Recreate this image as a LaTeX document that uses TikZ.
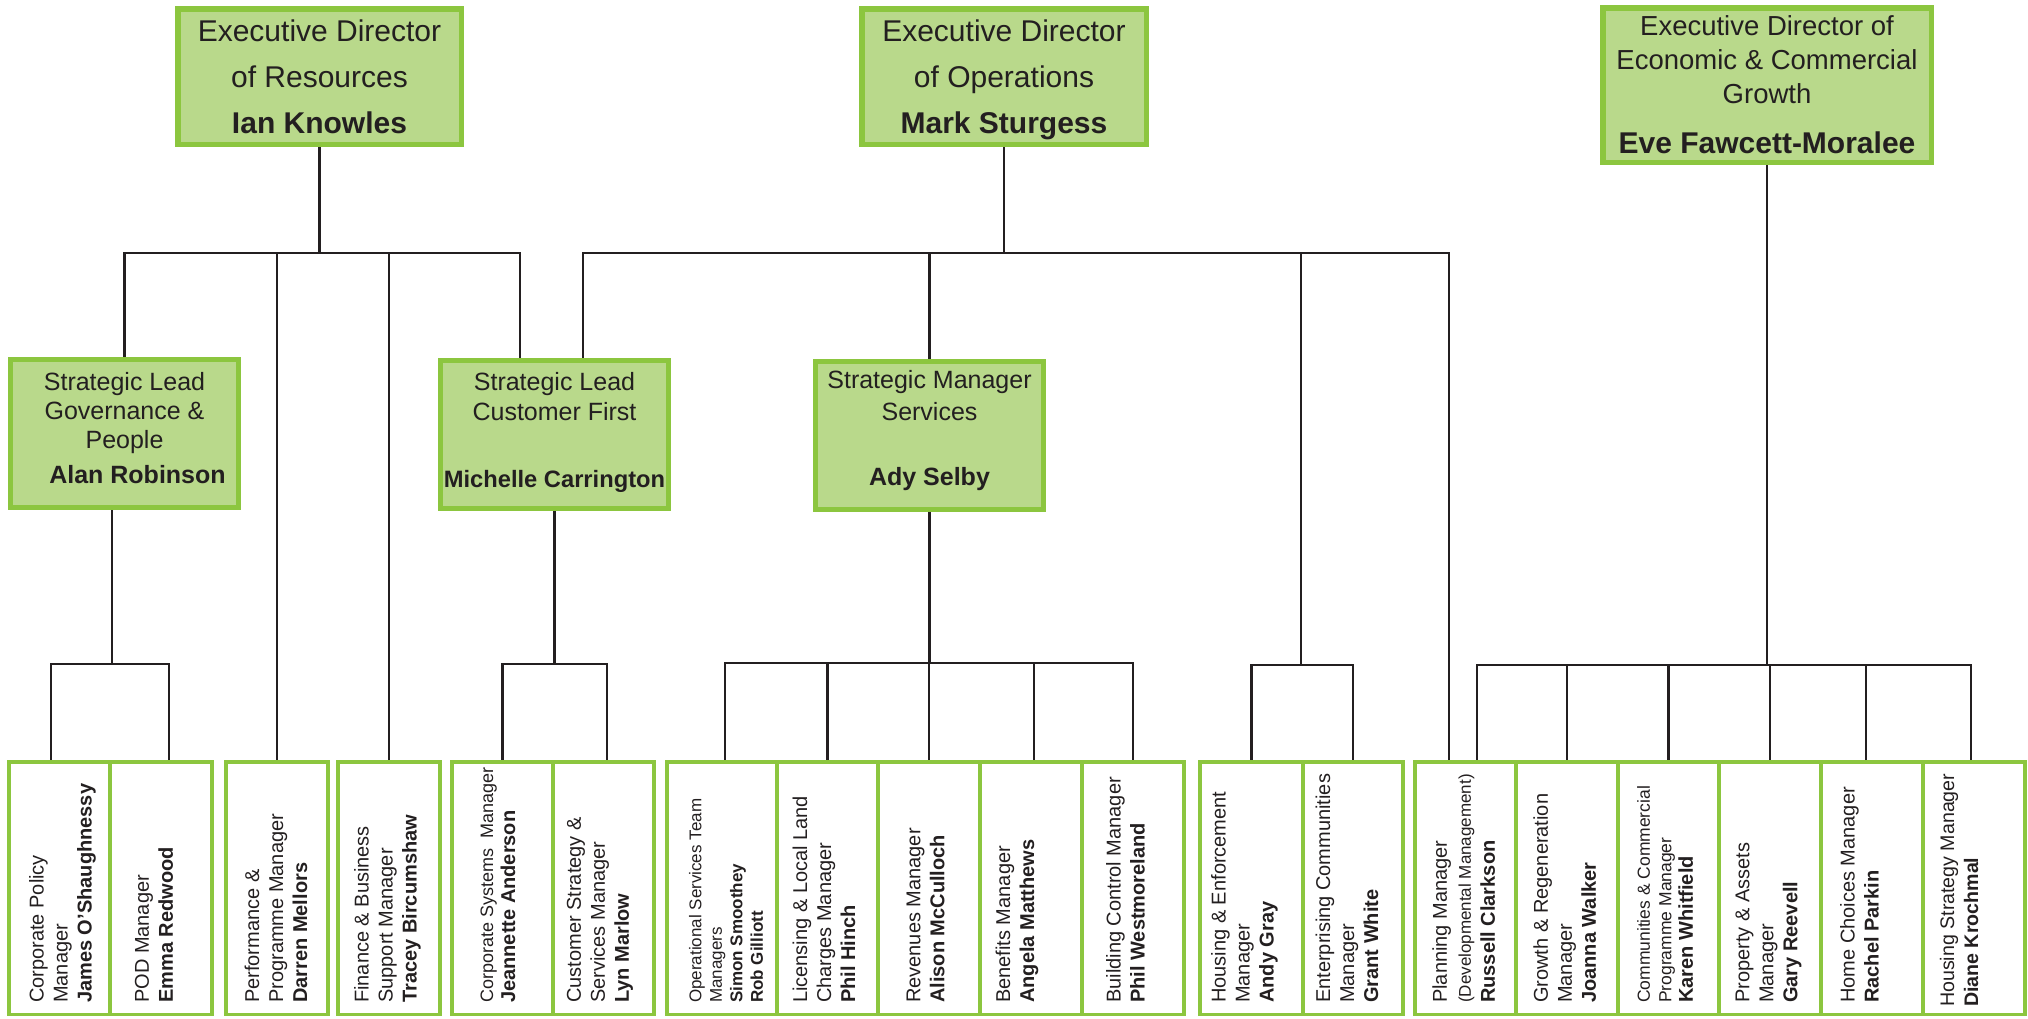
\documentclass[tikz,border=0pt]{standalone}
\usepackage{fontspec}
\setmainfont{Liberation Sans}
\usetikzlibrary{backgrounds}
\definecolor{gfill}{HTML}{B9D98B}
\definecolor{gline}{HTML}{8CC63F}
\definecolor{ink}{HTML}{231F20}
\begin{document}
\begin{tikzpicture}[x=1pt,y=-1pt,
  every node/.style={text=ink},
  conn/.style={draw=ink,line width=2.6pt},
  topbox/.style={draw=gline,fill=gfill,line width=5.5pt,inner sep=0pt,align=center},
  midbox/.style={draw=gline,fill=gfill,line width=5pt,inner sep=0pt,align=center,minimum width=228pt,minimum height=148pt,font=\fontsize{25}{29}\selectfont},
  leaf/.style={draw=gline,fill=white,line width=3.5pt,inner sep=0pt,minimum height=252.5pt},
  leaftext/.style={rotate=90,anchor=west,align=left,inner sep=0pt,font=\fontsize{20}{24}\selectfont}]
\useasboundingbox (0,0) rectangle (2028,1018);

% executive directors
\node[topbox,minimum width=283.5pt,minimum height=135.5pt,font=\fontsize{30}{46}\selectfont] (ed1) at (319.5,76.5) {Executive Director\\of Resources\\\textbf{Ian Knowles}};
\node[topbox,minimum width=284.5pt,minimum height=135.5pt,font=\fontsize{30}{46}\selectfont] (ed2) at (1004,76.5) {Executive Director\\of Operations\\\smash{\textbf{Mark Sturgess}}};
\node[topbox,minimum width=328.5pt,minimum height=154.5pt,font=\fontsize{27.5}{34}\selectfont] (ed3) at (1767,85) {Executive Director of\\Economic \& Commercial\\Growth\\[16pt]{\fontsize{30}{34}\selectfont\bfseries Eve Fawcett-Moralee}};

% strategic leads
\node[midbox] (slgov) at (124.5,433.5) {Strategic Lead\\Governance \&\\People\\[6pt]\hspace*{26pt}\textbf{Alan Robinson}\rule[-12pt]{0pt}{12pt}};
\node[midbox,font=\fontsize{25}{30}\selectfont] (slcf) at (554.5,434) {Strategic Lead\\Customer First\\[37pt]{\fontsize{23.7}{30}\selectfont\bfseries Michelle Carrington}\rule[-9pt]{0pt}{9pt}};
\node[midbox,font=\fontsize{25}{32}\selectfont] (sms) at (929.5,435.5) {Strategic Manager\\Services\\[33pt]\textbf{Ady Selby}\rule[-16pt]{0pt}{16pt}};

% managers (boxes)
\node[leaf,minimum width=101pt] (corp) at (59.5,888) {};
\node[leaf,minimum width=102pt] (pod) at (161,888) {};
\node[leaf,minimum width=102pt] (perf) at (277,888) {};
\node[leaf,minimum width=102pt] (fin) at (389,888) {};
\node[leaf,minimum width=101pt] (csys) at (502.5,888) {};
\node[leaf,minimum width=101pt] (cust) at (603.5,888) {};
\node[leaf,minimum width=110pt] (ops) at (722,888) {};
\node[leaf,minimum width=101pt] (lic) at (827.5,888) {};
\node[leaf,minimum width=102pt] (rev) at (929,888) {};
\node[leaf,minimum width=102pt] (ben) at (1031,888) {};
\node[leaf,minimum width=102pt] (bc) at (1133,888) {};
\node[leaf,minimum width=103pt] (he) at (1251.5,888) {};
\node[leaf,minimum width=100pt] (ent) at (1353,888) {};
\node[leaf,minimum width=101pt] (plan) at (1465.5,888) {};
\node[leaf,minimum width=102pt] (grow) at (1567,888) {};
\node[leaf,minimum width=101pt] (comm) at (1668.5,888) {};
\node[leaf,minimum width=102pt] (prop) at (1770,888) {};
\node[leaf,minimum width=102pt] (home) at (1872,888) {};
\node[leaf,minimum width=102pt] (hstrat) at (1974,888) {};

% managers (texts)
\node[leaftext] (t-corp) at (62.5,1003) {Corporate Policy\\Manager\\\textbf{James O'Shaughnessy}};
\node[leaftext] (t-pod) at (154,1003) {POD Manager\\\textbf{Emma Redwood}};
\node[leaftext] (t-perf) at (276,1003) {Performance \&\\Programme Manager\\\textbf{Darren Mellors}};
\node[leaftext] (t-fin) at (387.5,1003) {Finance \& Business\\Support Manager\\\textbf{Tracey Bircumshaw}};
\node[leaftext,font=\fontsize{18}{22}\selectfont] (t-csys) at (498,1003) {Corporate Systems\ \ Manager\\{\fontsize{20}{22}\selectfont\bfseries Jeannette Anderson}};
\node[leaftext] (t-cust) at (600,1003) {Customer Strategy \&\\Services Manager\\\textbf{Lyn Marlow}};
\node[leaftext,font=\fontsize{17}{20.5}\selectfont] (t-ops) at (726,1003) {Operational Services Team\\Managers\\\textbf{Simon Smoothey}\\\textbf{Rob Gilliott}};
\node[leaftext] (t-lic) at (824,1003) {Licensing \& Local Land\\Charges Manager\\\textbf{Phil Hinch}};
\node[leaftext] (t-rev) at (925.7,1003) {Revenues Manager\\\textbf{Alison McCulloch}};
\node[leaftext] (t-ben) at (1017,1003) {Benefits Manager\\\textbf{Angela Matthews}};
\node[leaftext] (t-bc) at (1125.5,1003) {Building Control Manager\\\textbf{Phil Westmoreland}};
\node[leaftext] (t-he) at (1244.5,1003) {Housing \& Enforcement\\Manager\\\textbf{Andy Gray}};
\node[leaftext] (t-ent) at (1347,1003) {Enterprising Communities\\Manager\\\textbf{Grant White}};
\node[leaftext] (t-plan) at (1463.6,1003) {Planning Manager\\{\fontsize{17}{24}\selectfont (Developmental Management)}\\\textbf{Russell Clarkson}};
\node[leaftext] (t-grow) at (1564.6,1003) {Growth \& Regeneration\\Manager\\\textbf{Joanna Walker}};
\node[leaftext,font=\fontsize{17.5}{21.5}\selectfont] (t-comm) at (1665,1003) {Communities \& Commercial\\Programme Manager\\{\fontsize{20}{21.5}\selectfont\bfseries Karen Whitfield}};
\node[leaftext] (t-prop) at (1768.5,1003) {Property \& Assets\\Manager\\\textbf{Gary Reevell}};
\node[leaftext] (t-home) at (1859.4,1003) {Home Choices Manager\\\textbf{Rachel Parkin}};
\node[leaftext,font=\fontsize{19.6}{24}\selectfont] (t-hstrat) at (1959,1007) {Housing Strategy Manager\\\textbf{Diane Krochmal}};

% junctions
\coordinate (rbar) at (319.5,253);
\coordinate (obar) at (1004,253);
\coordinate (ebar) at (1767,665);
\coordinate (gbar) at (112,664);
\coordinate (cbar) at (554.5,664);
\coordinate (sbar) at (929.5,663);
\coordinate (hbar) at (1301,665);

\begin{scope}[on background layer]
% Resources
\draw[conn] (ed1.south) -- (rbar);
\draw[conn] (rbar) -| (slgov.north);
\draw[conn] (rbar) -| (perf.north);
\draw[conn] (rbar) -| (fin.north);
\draw[conn] (rbar) -| ([shift={(-34.5,0)}]slcf.north);
% Operations
\draw[conn] (ed2.south) -- (obar);
\draw[conn] (obar) -| ([shift={(28.5,0)}]slcf.north);
\draw[conn] (obar) -| (sms.north);
\draw[conn] (obar) -| (hbar);
\draw[conn] (obar) -| ([shift={(-16.5,0)}]plan.north);
\draw[conn] (hbar) -| (he.north);
\draw[conn] (hbar) -| (ent.north);
% Economic & Commercial Growth
\draw[conn] (ed3.south) -- (ebar);
\draw[conn] (ebar) -| ([shift={(11.5,0)}]plan.north);
\draw[conn] (ebar) -| (grow.north);
\draw[conn] (ebar) -| (comm.north);
\draw[conn] (ebar) -| (prop.north);
\draw[conn] (ebar) -| ([shift={(-6,0)}]home.north);
\draw[conn] (ebar) -| ([shift={(-3,0)}]hstrat.north);
% Governance & People
\draw[conn] (slgov.south -| gbar) -- (gbar);
\draw[conn] (gbar) -| ([shift={(-8.5,0)}]corp.north);
\draw[conn] (gbar) -| ([shift={(8,0)}]pod.north);
% Customer First
\draw[conn] (slcf.south) -- (cbar);
\draw[conn] (cbar) -| (csys.north);
\draw[conn] (cbar) -| ([shift={(3.5,0)}]cust.north);
% Services
\draw[conn] (sms.south) -- (sbar);
\draw[conn] (sbar) -| ([shift={(3,0)}]ops.north);
\draw[conn] (sbar) -| (lic.north);
\draw[conn] (sbar) -| (rev.north);
\draw[conn] (sbar) -| ([shift={(3,0)}]ben.north);
\draw[conn] (sbar) -| (bc.north);
\end{scope}
\end{tikzpicture}
\end{document}
